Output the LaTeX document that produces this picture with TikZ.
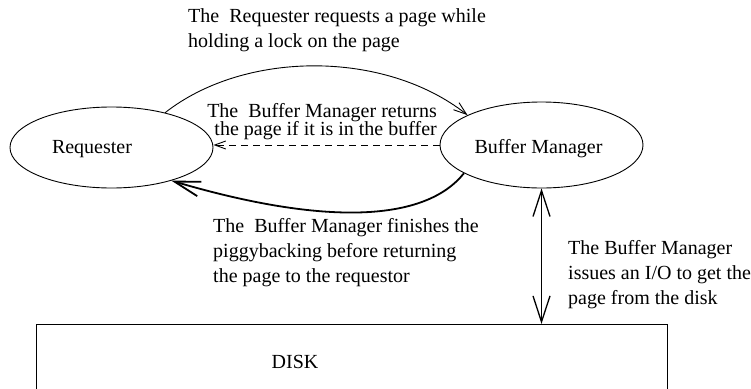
\documentclass[tikz,border=0pt]{standalone}
\usepackage{fontspec}
\setmainfont{Liberation Serif}
\usetikzlibrary{shapes.geometric,arrows.meta}
\begin{document}
\begin{tikzpicture}[x=1pt,y=-1pt,
  txt/.style={inner sep=0pt,font=\fontsize{20}{25}\selectfont},
  lbl/.style={txt,align=left,anchor=north west},
  ell/.style={draw,shape=ellipse,line width=0.9pt,minimum width=203pt,minimum height=81pt,inner sep=0pt},
  thin/.style={line width=0.9pt},
  smalltip/.style={-{Straight Barb[length=13pt,width=9pt]}},
]
\useasboundingbox (0,0) rectangle (751,388);
% ellipses
\node[ell] (req) at (111.5,147.5) {};
\node[ell,minimum height=86pt] (bm) at (541.5,145) {};
\node[txt,anchor=base] (reqt) at (92,153) {Requester};
\node[txt,anchor=base] (bmt) at (538.5,153) {Buffer Manager};
% disk
\node[draw,thin,rectangle,minimum width=631pt,minimum height=120pt,anchor=north west,inner sep=0pt] (disk) at (36,324) {};
\node[txt,anchor=base] (diskt) at (295,368) {DISK};
% connectors
\draw[thin,smalltip] (req.33) .. controls (245,50) and (385,50) .. (bm.158);
\draw[thin,dash pattern=on 7pt off 5pt,-{Straight Barb[length=11pt,width=8pt]}] (bm.west) -- (req.east |- bm.west);
\draw[line width=1.8pt,-{Straight Barb[length=26pt,width=15pt]}] (bm.200) .. controls (425,222) and (325,226) .. (req.331);
\draw[line width=1.3pt,{Straight Barb[length=26pt,width=17pt]}-{Straight Barb[length=26pt,width=17pt]}] (bm.south) -- (bm.south |- disk.north);
% labels
\node[lbl] (t1) at (188,8.8) {The~~Requester requests a page while\\holding a lock on the page};
\node[inner sep=0pt,align=right,anchor=north east,font={\fontsize{20}{18.5}\selectfont\lineskiplimit=-20pt\relax}] (t2) at (437,102.8) {The~~Buffer Manager returns\\the page if it is in the buffer};
\node[lbl] (t3) at (213,218.3) {The~~Buffer Manager finishes the\\piggybacking before returning\\the page to the requestor};
\node[lbl] (t4) at (568,240) {The Buffer Manager\\issues an I/O to get the\\page from the disk};
\end{tikzpicture}
\end{document}
